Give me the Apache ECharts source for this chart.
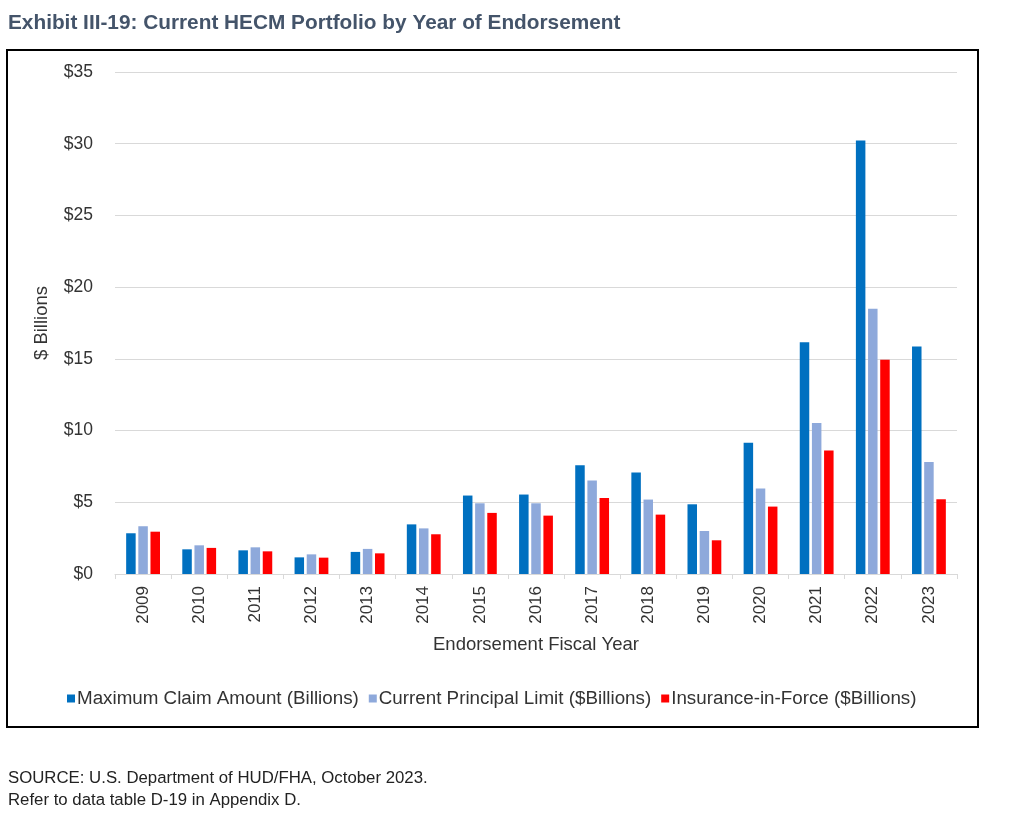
<!DOCTYPE html>
<html><head><meta charset="utf-8">
<script src="https://cdn.jsdelivr.net/npm/echarts@6/dist/echarts.min.js"></script>
<style>html,body{margin:0;padding:0;background:#fff}#c{width:1024px;height:818px}</style>
</head><body><div id="c"></div>
<script>
const years = ['2009','2010','2011','2012','2013','2014','2015','2016','2017','2018','2019','2020','2021','2022','2023'];
const maxClaim = [2.84,1.72,1.65,1.16,1.54,3.46,5.47,5.54,7.58,7.07,4.86,9.15,16.16,30.23,15.86];
const principalLimit = [3.33,2.0,1.86,1.37,1.75,3.18,4.93,4.93,6.52,5.19,3.0,5.96,10.52,18.49,7.81];
const insuranceInForce = [2.95,1.82,1.58,1.14,1.44,2.77,4.26,4.07,5.3,4.14,2.35,4.7,8.61,14.93,5.21];
const seriesNames = ['Maximum Claim Amount (Billions)','Current Principal Limit ($Billions)','Insurance-in-Force ($Billions)'];
const yTicks = [0,5,10,15,20,25,30,35];

const font = '"Liberation Sans", Arial, sans-serif';
const chart = echarts.init(document.getElementById('c'));
chart.setOption({
  animation:false,
  textStyle:{fontFamily:font},
  title:[
    {text:'Exhibit III-19: Current HECM Portfolio by Year of Endorsement',left:3,top:8,
     textStyle:{fontFamily:font,fontSize:20.8,fontWeight:'bold',color:'#44546A'}},
    {text:'SOURCE: U.S. Department of HUD/FHA, October 2023.\nRefer to data table D-19 in Appendix D.',left:3,top:762,
     textStyle:{fontFamily:font,fontSize:16.8,fontWeight:'normal',color:'#222',lineHeight:22}}
  ],
  graphic:[{type:'rect',shape:{x:7,y:50,width:971,height:677},style:{fill:'none',stroke:'#000',lineWidth:2},z:-1}],
  legend:{data:seriesNames,top:684,left:62,itemWidth:8,itemHeight:8,itemGap:10,icon:'rect',
    textStyle:{fontFamily:font,fontSize:18.8,color:'#333',padding:[0,0,0,-3]}},
  grid:{left:115,right:67,top:72,bottom:244},
  xAxis:{type:'category',data:years,
    name:'Endorsement Fiscal Year',nameLocation:'middle',nameGap:61,
    nameTextStyle:{fontFamily:font,fontSize:18.5,color:'#333'},
    axisLine:{lineStyle:{color:'#d9d9d9',width:1}},
    axisTick:{show:true,length:5,lineStyle:{color:'#d9d9d9'}},
    axisLabel:{rotate:90,fontSize:17,color:'#333',margin:12,fontFamily:font}},
  yAxis:{type:'value',min:0,max:35,interval:5,
    name:'$ Billions',nameLocation:'middle',nameGap:64,
    nameTextStyle:{fontFamily:font,fontSize:18.5,color:'#333'},
    axisLine:{show:false},axisTick:{show:false},
    splitLine:{lineStyle:{color:'#d9d9d9',width:1}},
    axisLabel:{fontSize:17.5,color:'#333',margin:22,fontFamily:font,
      formatter:v=>yTicks.includes(v)?'$'+v:''}},
  series:[
    {name:seriesNames[0],type:'bar',data:maxClaim,barWidth:9.5,barGap:'28%',itemStyle:{color:'#0070C0'}},
    {name:seriesNames[1],type:'bar',data:principalLimit,barWidth:9.5,barGap:'28%',itemStyle:{color:'#8EA9DB'}},
    {name:seriesNames[2],type:'bar',data:insuranceInForce,barWidth:9.5,barGap:'28%',itemStyle:{color:'#FF0000'}}
  ]
});
</script></body></html>
